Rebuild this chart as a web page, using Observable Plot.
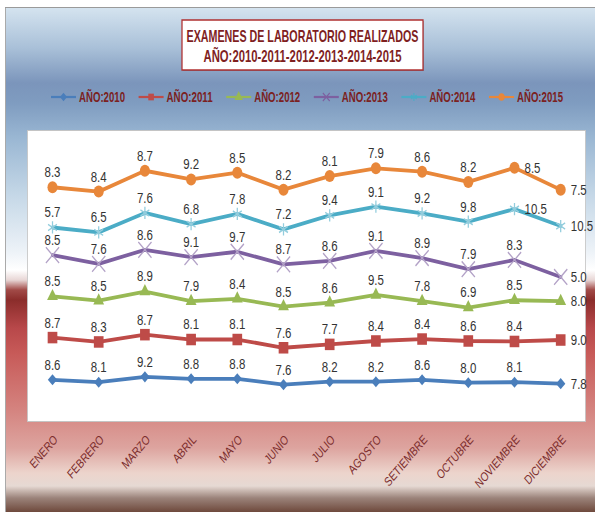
<!DOCTYPE html>
<html><head><meta charset="utf-8">
<script src="https://cdn.jsdelivr.net/npm/d3@7"></script>
<script src="https://cdn.jsdelivr.net/npm/@observablehq/plot@0.6"></script>
<style>
body{margin:0;background:#fff;width:595px;height:512px;overflow:hidden;position:relative;}
#wrap{position:absolute;left:0;top:0;width:708.33px;height:512px;transform:scaleX(0.84);transform-origin:0 0;}
#bg{position:absolute;left:5.95px;top:7px;width:702.4px;height:505px;border-left:1.2px solid #9a9a9a;border-top:1px solid #9a9a9a;
background:linear-gradient(to bottom,#d4e3ef 0px,#a9c0d8 40px,#7b95bb 75px,#7f9cc0 95px,#9ab7d3 130px,#c7d9e8 190px,#eef3f8 245px,#ffffff 262px,#e8d6d5 272px,#a14a47 282px,#8b2d2b 292px,#b8484a 320px,#c75a58 345px,#d4827e 400px,#dda49f 440px,#ecd4cc 465px,#e6d9d3 478px,#9b837a 490px,#6b4538 505px);}
#plot,#overlay{position:absolute;left:0;top:0;}
</style></head>
<body>
<div id="wrap">
<div id="bg"></div>
<div id="plot"></div>
<div id="overlay"></div>
</div>
<script>
const months = ["ENERO","FEBRERO","MARZO","ABRIL","MAYO","JUNIO","JULIO","AGOSTO","SETIEMBRE","OCTUBRE","NOVIEMBRE","DICIEMBRE"];
const years = ["AÑO:2010","AÑO:2011","AÑO:2012","AÑO:2013","AÑO:2014","AÑO:2015"];
const v2010 = [8.6, 8.1, 9.2, 8.8, 8.8, 7.6, 8.2, 8.2, 8.6, 8.0, 8.1, 7.8];
const v2011 = [8.7, 8.3, 8.7, 8.1, 8.1, 7.6, 7.7, 8.4, 8.4, 8.6, 8.4, 9.0];
const v2012 = [8.5, 8.5, 8.9, 7.9, 8.4, 8.5, 8.6, 9.5, 7.8, 6.9, 8.5, 8.0];
const v2013 = [8.5, 7.6, 8.6, 9.1, 9.7, 8.7, 8.6, 9.1, 8.9, 7.9, 8.3, 5.0];
const v2014 = [5.7, 6.5, 7.6, 6.8, 7.8, 7.2, 9.4, 9.1, 9.2, 9.8, 10.5, 10.5];
const v2015 = [8.3, 8.4, 8.7, 9.2, 8.5, 8.2, 8.1, 7.9, 8.6, 8.2, 8.5, 7.5];
const series = [v2010, v2011, v2012, v2013, v2014, v2015];
const titleLines = ["EXAMENES DE LABORATORIO REALIZADOS", "AÑO:2010-2011-2012-2013-2014-2015"];

const S = 0.84; // horizontal squeeze of the whole picture
const lineColors = ["#4a7ebb","#be4b48","#98b954","#7d60a0","#4bacc6","#e8873a"];
const markColors = ["#4a7ebb","#be4b48","#98b954","#b3a2c7","#93cddd","#e8873a"];
const symbols = ["diamond2","square","triangle","times","asterisk","circle"];
const radii = [5, 6.5, 4.8, 7.2, 5.8, 6];
const strokeSym = [false,false,false,true,true,false];
const font = '"Liberation Sans", Arial, sans-serif';

const data = years.flatMap((y, i) => months.map((m, j) => ({year: y, yi: i, month: m, mi: j, value: series[i][j]})));
const stk = (o) => Plot.stackY2({x: "month", y: "value", z: "year", ...o});

const marks = [
  Plot.frame({fill: "white", stroke: "#c4c4c4", strokeWidth: 1}),
  Plot.axisX({tickSize: 0, tickRotate: -45, tickPadding: 16, dx: 4, fontSize: 13, fill: "#7b2c2c", fontFamily: font}),
  Plot.lineY(data, stk({stroke: "year", strokeWidth: 3.8, strokeLinejoin: "round"}))
];
years.forEach((y, i) => {
  const opts = {symbol: symbols[i], r: radii[i]};
  if (strokeSym[i]) { opts.stroke = markColors[i]; opts.strokeWidth = 1.5; opts.fill = "none"; }
  else { opts.fill = markColors[i]; opts.stroke = "none"; }
  marks.push(Plot.dot(data, Plot.filter(d => d.year === y, stk(opts))));
});
const isRight = d => d.mi === 11 || (d.mi === 10 && d.yi >= 4);
const lbl = {text: d => d.value.toFixed(1), fontSize: 15.5, fill: "#333", fontFamily: font};
marks.push(Plot.text(data, Plot.filter(d => !isRight(d), stk({...lbl, dy: -15}))));
marks.push(Plot.text(data, Plot.filter(isRight, stk({...lbl, dx: 12, textAnchor: "start"}))));

const W = 595 / S;
const chart = Plot.plot({
  width: W, height: 512,
  marginTop: 130, marginBottom: 91, marginLeft: 27 / S, marginRight: 10 / S,
  style: {background: "transparent", overflow: "visible"},
  x: {type: "point", domain: months, padding: 0.5, label: null},
  y: {domain: [0, 60], axis: null},
  color: {domain: years, range: lineColors},
  marks
});
document.getElementById("plot").appendChild(chart);

function squeeze(sel, f) {
  sel.each(function() {
    const len = this.getComputedTextLength();
    if (len > 0) d3.select(this).attr("textLength", len * f).attr("lengthAdjust", "spacingAndGlyphs");
  });
}
squeeze(d3.select(chart).selectAll("text"), 0.88);

// title + legend overlay
const ov = d3.select("#overlay").append("svg").attr("width", W).attr("height", 512);
ov.append("rect").attr("x", 182 / S + 1).attr("y", 21).attr("width", 241 / S).attr("height", 50).attr("fill", "rgba(0,0,0,0.25)");
ov.append("rect").attr("x", 182 / S).attr("y", 20).attr("width", 241 / S).attr("height", 50)
  .attr("fill", "white").attr("stroke", "#b03030").attr("stroke-width", 1.5);
const tl = [[42, 232], [62, 198]];
titleLines.forEach((t, i) => {
  ov.append("text").attr("x", 302.5 / S).attr("y", tl[i][0]).attr("text-anchor", "middle")
    .attr("font-family", font).attr("font-weight", "bold").attr("font-size", 16.5).attr("fill", "#7f1f1f")
    .attr("textLength", tl[i][1] / S).attr("lengthAdjust", "spacingAndGlyphs").text(t);
});
const symMap = {diamond2: d3.symbolDiamond2, square: d3.symbolSquare, triangle: d3.symbolTriangle, times: d3.symbolTimes, asterisk: d3.symbolAsterisk, circle: d3.symbolCircle};
years.forEach((y, i) => {
  const sx = (51 + i * 87.6) / S, tx = (79 + i * 87.6) / S;
  ov.append("line").attr("x1", sx).attr("x2", sx + 25 / S).attr("y1", 97).attr("y2", 97).attr("stroke", lineColors[i]).attr("stroke-width", 2.2);
  ov.append("path").attr("transform", `translate(${sx + 12.5 / S},97)`).attr("d", d3.symbol(symMap[symbols[i]], 45)())
    .attr("fill", strokeSym[i] ? "none" : markColors[i]).attr("stroke", strokeSym[i] ? lineColors[i] : "none").attr("stroke-width", 1.3);
  ov.append("text").attr("x", tx).attr("y", 102).attr("font-family", font).attr("font-weight", "bold").attr("font-size", 14)
    .attr("fill", "#7b2121").attr("textLength", 46 / S).attr("lengthAdjust", "spacingAndGlyphs").text(y);
});
</script>
</body></html>
